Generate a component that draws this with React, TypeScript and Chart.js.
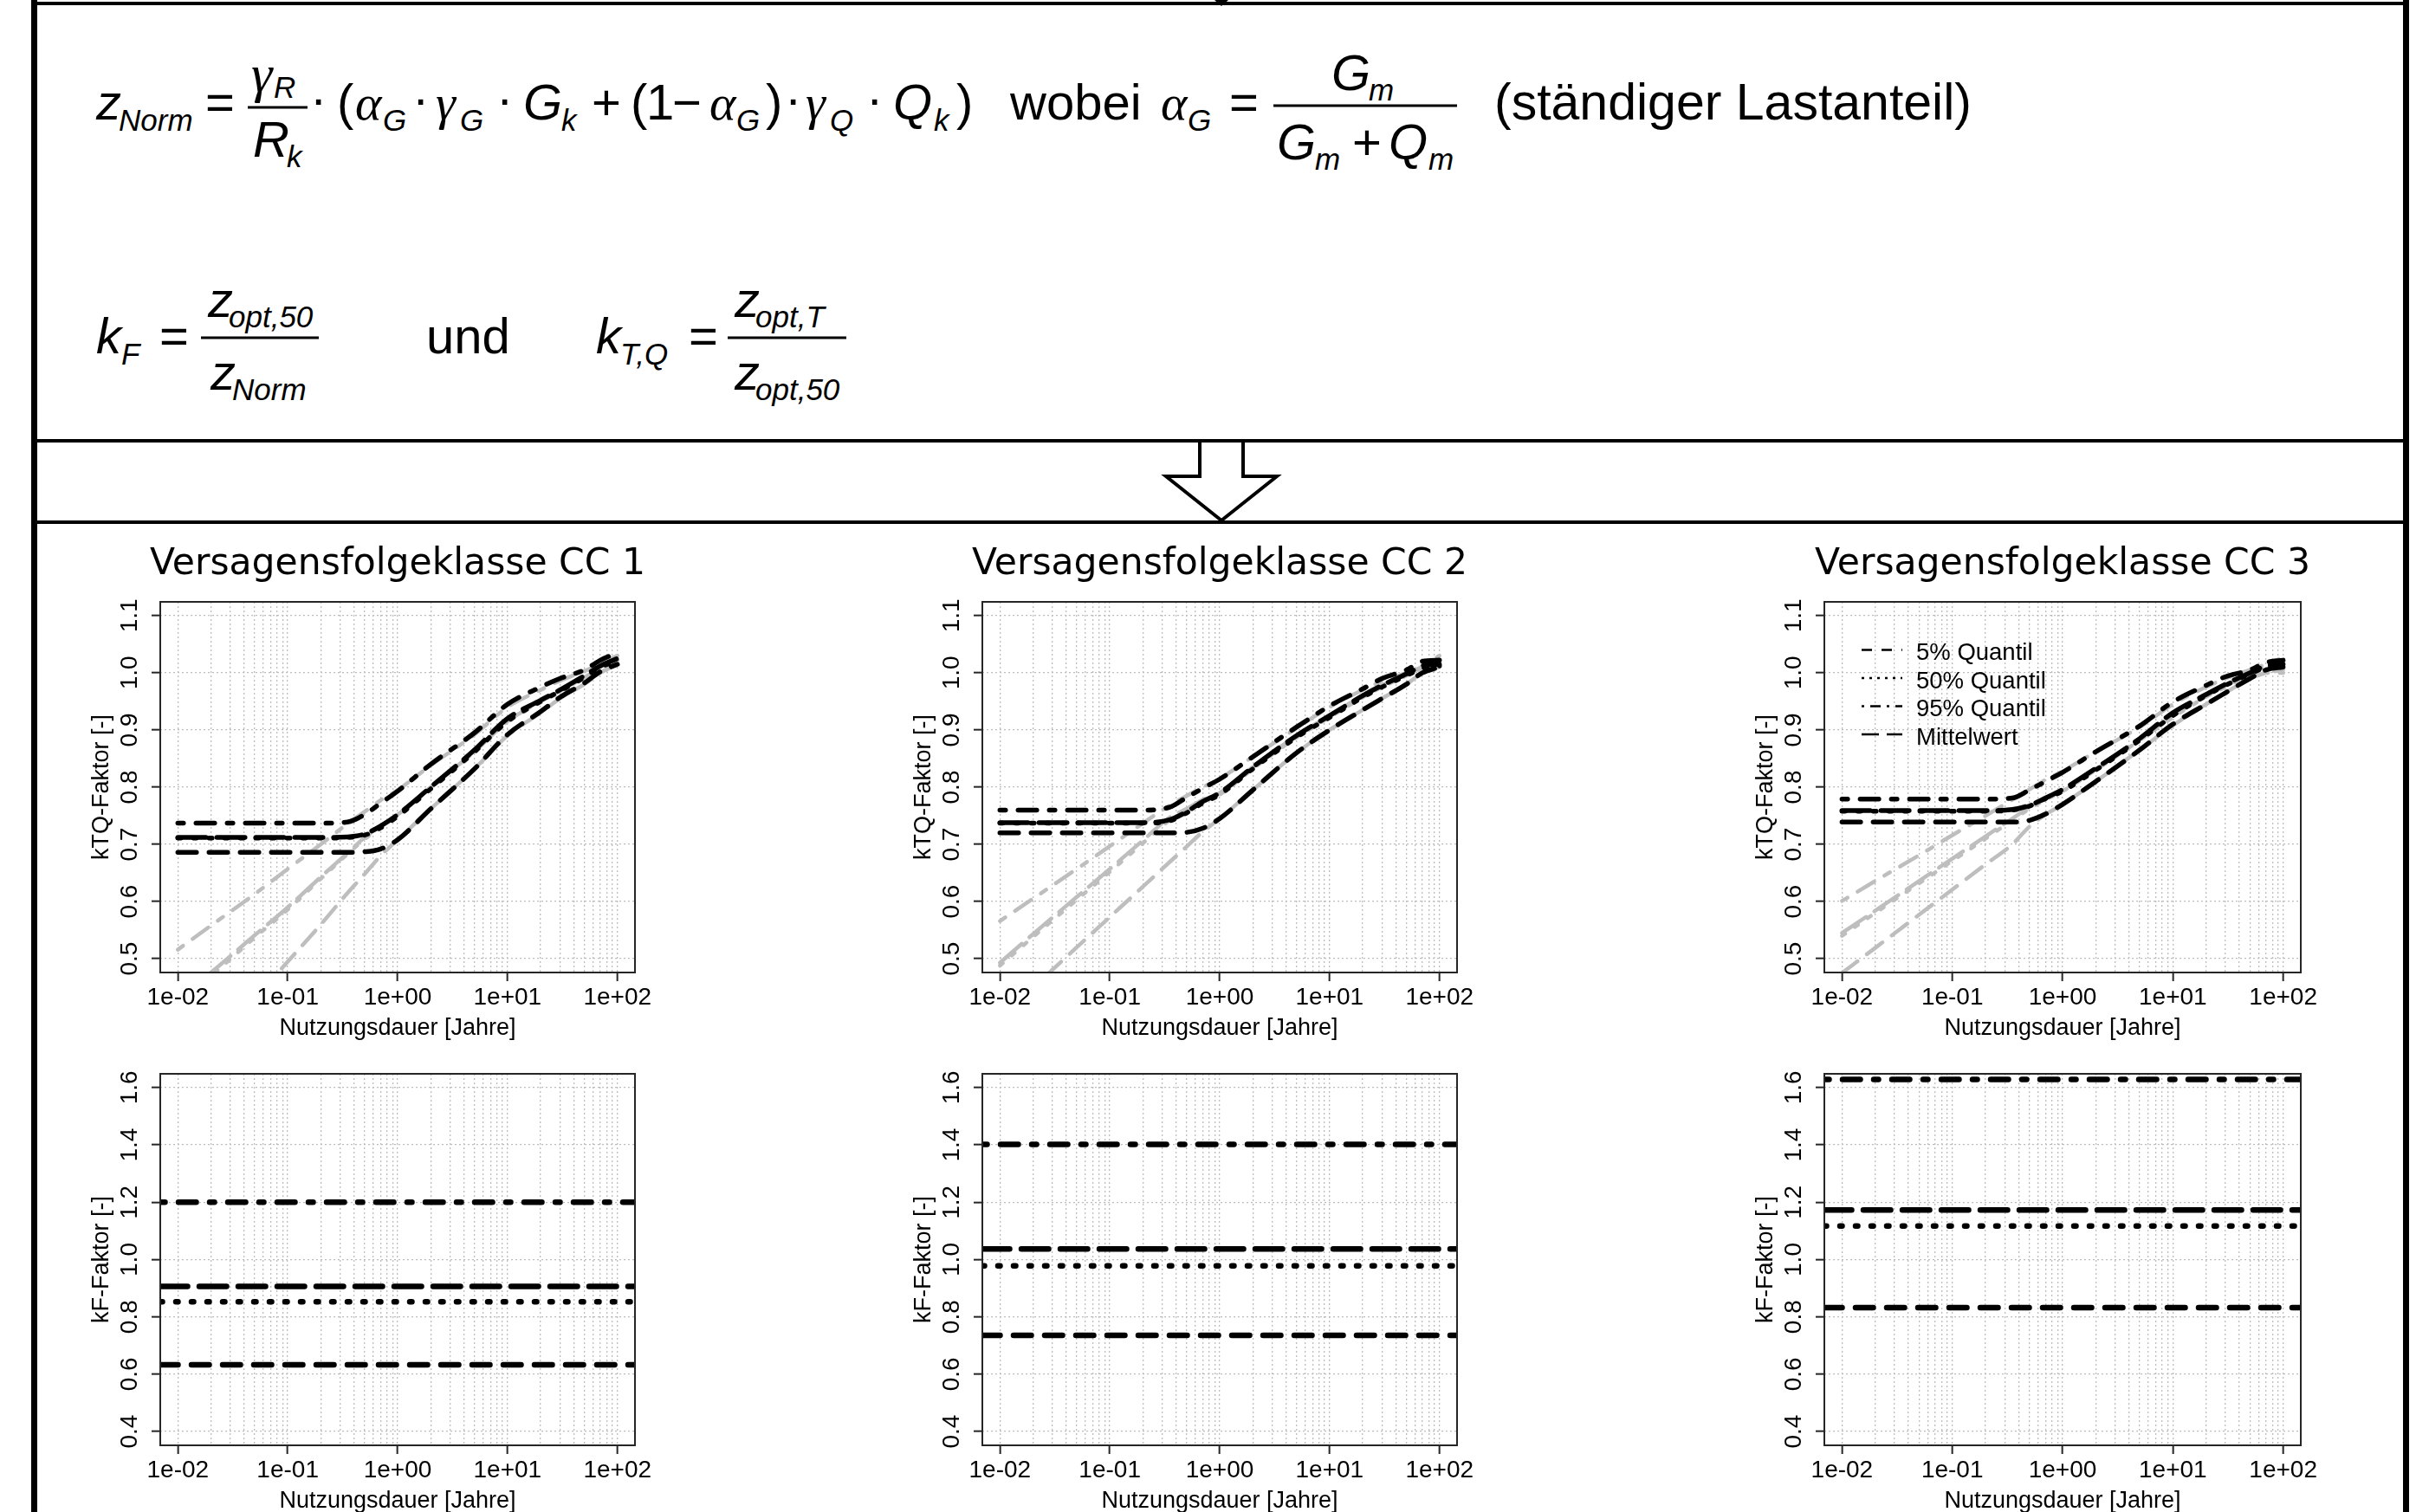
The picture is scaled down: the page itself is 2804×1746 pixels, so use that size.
import React, { useEffect, useRef } from 'react';
import { Chart, registerables } from 'chart.js';

Chart.register(...registerables);

// ---------------- data ----------------
const DURATION = [0.01, 0.02, 0.05, 0.1, 0.2, 0.35, 0.5, 0.7, 1, 2, 5, 10, 20, 30, 50, 70, 100];

// kTQ factor, black curves (constrained)
const CC1_Q5_BLACK = [0.686, 0.686, 0.686, 0.686, 0.686, 0.686, 0.687, 0.692, 0.708, 0.762, 0.832, 0.892, 0.932, 0.957, 0.982, 1.002, 1.015];
const CC1_Q50_BLACK = [0.711, 0.711, 0.711, 0.711, 0.711, 0.712, 0.716, 0.729, 0.749, 0.797, 0.862, 0.915, 0.95, 0.968, 0.992, 1.01, 1.02];
const CC1_Q95_BLACK = [0.737, 0.737, 0.737, 0.737, 0.737, 0.739, 0.752, 0.772, 0.793, 0.84, 0.895, 0.945, 0.975, 0.99, 1.005, 1.022, 1.035];
const CC1_MEAN_BLACK = [0.712, 0.712, 0.712, 0.712, 0.712, 0.713, 0.718, 0.732, 0.752, 0.8, 0.865, 0.92, 0.952, 0.97, 0.995, 1.012, 1.025];
// kTQ factor, grey curves (unconstrained)
const CC1_Q5_GRAY = [0.28, 0.345, 0.43, 0.495, 0.56, 0.615, 0.648, 0.68, 0.708, 0.762, 0.832, 0.89, 0.93, 0.955, 0.98, 1.0, 1.015];
const CC1_Q50_GRAY = [0.425, 0.47, 0.537, 0.586, 0.64, 0.683, 0.709, 0.73, 0.749, 0.797, 0.86, 0.913, 0.948, 0.966, 0.99, 1.006, 1.02];
const CC1_Q95_GRAY = [0.516, 0.558, 0.613, 0.657, 0.7, 0.736, 0.757, 0.777, 0.795, 0.838, 0.892, 0.94, 0.97, 0.986, 1.003, 1.016, 1.03];
const CC1_MEAN_GRAY = [0.43, 0.476, 0.541, 0.59, 0.643, 0.685, 0.712, 0.733, 0.752, 0.8, 0.862, 0.915, 0.95, 0.968, 0.992, 1.008, 1.022];

const CC2_Q5_BLACK = [0.72, 0.72, 0.72, 0.72, 0.72, 0.72, 0.721, 0.728, 0.745, 0.795, 0.86, 0.9, 0.935, 0.955, 0.98, 1.0, 1.01];
const CC2_Q50_BLACK = [0.737, 0.737, 0.737, 0.737, 0.737, 0.741, 0.755, 0.772, 0.787, 0.832, 0.887, 0.922, 0.957, 0.975, 0.995, 1.008, 1.012];
const CC2_Q95_BLACK = [0.76, 0.76, 0.76, 0.76, 0.76, 0.765, 0.782, 0.798, 0.814, 0.853, 0.905, 0.942, 0.972, 0.99, 1.005, 1.02, 1.022];
const CC2_MEAN_BLACK = [0.738, 0.738, 0.738, 0.738, 0.738, 0.743, 0.757, 0.775, 0.79, 0.835, 0.89, 0.925, 0.96, 0.978, 0.998, 1.012, 1.015];
const CC2_Q5_GRAY = [0.4, 0.45, 0.52, 0.573, 0.626, 0.669, 0.696, 0.722, 0.745, 0.795, 0.86, 0.9, 0.935, 0.955, 0.98, 1.0, 1.01];
const CC2_Q50_GRAY = [0.488, 0.538, 0.603, 0.652, 0.702, 0.742, 0.758, 0.774, 0.787, 0.832, 0.887, 0.922, 0.957, 0.975, 0.995, 1.008, 1.012];
const CC2_Q95_GRAY = [0.566, 0.605, 0.657, 0.697, 0.737, 0.768, 0.785, 0.8, 0.815, 0.853, 0.903, 0.94, 0.97, 0.985, 1.0, 1.012, 1.03];
const CC2_MEAN_GRAY = [0.493, 0.543, 0.608, 0.657, 0.707, 0.747, 0.762, 0.778, 0.79, 0.835, 0.89, 0.925, 0.96, 0.978, 0.998, 1.01, 1.015];

const CC3_Q5_BLACK = [0.739, 0.739, 0.739, 0.739, 0.739, 0.739, 0.742, 0.753, 0.77, 0.81, 0.865, 0.91, 0.945, 0.965, 0.99, 1.005, 1.01];
const CC3_Q50_BLACK = [0.758, 0.758, 0.758, 0.758, 0.758, 0.76, 0.767, 0.78, 0.793, 0.83, 0.882, 0.925, 0.96, 0.978, 0.998, 1.01, 1.02];
const CC3_Q95_BLACK = [0.779, 0.779, 0.779, 0.779, 0.779, 0.781, 0.795, 0.81, 0.826, 0.862, 0.907, 0.949, 0.978, 0.993, 1.005, 1.018, 1.022];
const CC3_MEAN_BLACK = [0.759, 0.759, 0.759, 0.759, 0.759, 0.761, 0.768, 0.781, 0.796, 0.833, 0.885, 0.93, 0.962, 0.98, 1.0, 1.012, 1.015];
const CC3_Q5_GRAY = [0.475, 0.519, 0.577, 0.621, 0.665, 0.7, 0.731, 0.752, 0.77, 0.81, 0.865, 0.908, 0.945, 0.965, 0.99, 1.0, 1.005];
const CC3_Q50_GRAY = [0.54, 0.58, 0.632, 0.671, 0.71, 0.742, 0.762, 0.778, 0.793, 0.83, 0.882, 0.922, 0.958, 0.975, 0.995, 1.0, 1.0];
const CC3_Q95_GRAY = [0.601, 0.636, 0.681, 0.716, 0.75, 0.778, 0.796, 0.813, 0.828, 0.862, 0.905, 0.945, 0.975, 0.99, 1.005, 1.015, 1.027];
const CC3_MEAN_GRAY = [0.545, 0.584, 0.636, 0.675, 0.714, 0.745, 0.765, 0.78, 0.795, 0.833, 0.885, 0.925, 0.96, 0.978, 0.998, 1.01, 1.015];

// kF factor (constant over service life), per class CC1, CC2, CC3
const KF_Q5 = [0.633, 0.736, 0.832];
const KF_Q50 = [0.853, 0.978, 1.117];
const KF_Q95 = [1.2, 1.402, 1.628];
const KF_MEAN = [0.906, 1.037, 1.173];

const CLASS_TITLES = ['Versagensfolgeklasse CC 1', 'Versagensfolgeklasse CC 2', 'Versagensfolgeklasse CC 3'];
const LEGEND_LABELS = ['5% Quantil', '50% Quantil', '95% Quantil', 'Mittelwert'];
const X_TICKS = [0.01, 0.1, 1, 10, 100];
const X_TICK_LABELS = ['1e-02', '1e-01', '1e+00', '1e+01', '1e+02'];
const KTQ_Y_TICKS = [0.5, 0.6, 0.7, 0.8, 0.9, 1.0, 1.1];
const KF_Y_TICKS = [0.4, 0.6, 0.8, 1.0, 1.2, 1.4, 1.6];

// axis limits (R style: data range +4%)
const X_MIN = Math.pow(10, -2.16);
const X_MAX = Math.pow(10, 2.16);
const KTQ_LIM = [0.476, 1.124];
const KF_LIM = [0.352, 1.648];

const KTQ_BLACK = [
  [CC1_Q5_BLACK, CC1_Q50_BLACK, CC1_Q95_BLACK, CC1_MEAN_BLACK],
  [CC2_Q5_BLACK, CC2_Q50_BLACK, CC2_Q95_BLACK, CC2_MEAN_BLACK],
  [CC3_Q5_BLACK, CC3_Q50_BLACK, CC3_Q95_BLACK, CC3_MEAN_BLACK],
];
const KTQ_GRAY = [
  [CC1_Q5_GRAY, CC1_Q50_GRAY, CC1_Q95_GRAY, CC1_MEAN_GRAY],
  [CC2_Q5_GRAY, CC2_Q50_GRAY, CC2_Q95_GRAY, CC2_MEAN_GRAY],
  [CC3_Q5_GRAY, CC3_Q50_GRAY, CC3_Q95_GRAY, CC3_MEAN_GRAY],
];

// ---------------- styles ----------------
const SANS = "'Liberation Sans', Arial, sans-serif";
const NARROW = "'Liberation Sans Narrow', 'Liberation Sans', Arial, sans-serif";
const SERIF = "'Liberation Serif', 'Times New Roman', serif";
const LINE_STYLES = ['dashed', 'dotted', 'dotdash', 'longdash'];
const GRID_COLOR = '#bdbdbd';
const GRAY = '#bebebe';

const COLS = [
  { left: 185, w: 548 },
  { left: 1134, w: 548 },
  { left: 2106, w: 550 },
];
const TOP_ROW = { top: 695, h: 428 };
const BOT_ROW = { top: 1240, h: 429 };
const Y_AXIS_W = 100;
const X_AXIS_H = 88;
const TITLE_H = 76;
const BOT_PAD_TOP = 26;

const GRID_X: number[] = (() => {
  const out: number[] = [];
  for (let e = -2; e <= 1; e++) for (let m = 1; m <= 9; m++) out.push(+(m * Math.pow(10, e)).toPrecision(6));
  out.push(100);
  return out;
})();

function majorIndex(v: number) {
  return X_TICKS.findIndex((t) => Math.abs(t - v) / t < 1e-6);
}

function dashFor(style: string, L: number): number[] {
  switch (style) {
    case 'dashed':
      return [27 - L, 9 + L];
    case 'dotted':
      return [Math.max(0.5, 9 - L), 9 + L];
    case 'dotdash':
      return [Math.max(0.5, 12 - L), 9 + L, 27 - L, 9 + L];
    default:
      return [38 - L, 7 + L];
  }
}

const LEGEND_DASH = [[12, 11], [3, 6], [3, 7, 12, 7], [20, 9]];

const boxPlugin = {
  id: 'rbox',
  afterDraw(chart: any) {
    const { ctx, chartArea: a } = chart;
    ctx.save();
    ctx.setLineDash([]);
    ctx.strokeStyle = '#262626';
    ctx.lineWidth = 2;
    ctx.strokeRect(a.left, a.top, a.right - a.left, a.bottom - a.top);
    ctx.restore();
  },
};

const legendPlugin = {
  id: 'rlegend',
  afterDraw(chart: any, _args: any, opts: any) {
    if (!opts || !opts.show) return;
    const { ctx, chartArea: a } = chart;
    LEGEND_LABELS.forEach((label, i) => {
      const y = a.top + 58.5 + i * 32.5;
      ctx.save();
      ctx.strokeStyle = '#000';
      ctx.lineWidth = 2.5;
      ctx.setLineDash(LEGEND_DASH[i]);
      ctx.beginPath();
      ctx.moveTo(a.left + 43, y - 3);
      ctx.lineTo(a.left + 90, y - 3);
      ctx.stroke();
      ctx.setLineDash([]);
      ctx.fillStyle = '#000';
      ctx.font = `27.5px ${SANS}`;
      ctx.textBaseline = 'middle';
      ctx.textAlign = 'left';
      ctx.fillText(label, a.left + 106, y + 1);
      ctx.restore();
    });
  },
};

function lineDataset(values: number[], color: string, width: number, style: string, order: number) {
  return {
    data: DURATION.map((x, i) => ({ x, y: values[i] })),
    borderColor: color,
    borderWidth: width,
    borderDash: dashFor(style, width),
    borderCapStyle: 'round',
    borderJoinStyle: 'round',
    pointRadius: 0,
    fill: false,
    cubicInterpolationMode: 'monotone',
    order,
    clip: 0,
  };
}

function makeConfig(kind: 'ktq' | 'kf', cc: number): any {
  const isTop = kind === 'ktq';
  const datasets: any[] = [];
  if (isTop) {
    LINE_STYLES.forEach((st, j) => datasets.push(lineDataset(KTQ_GRAY[cc][j], GRAY, 4.5, st, 1)));
    LINE_STYLES.forEach((st, j) => datasets.push(lineDataset(KTQ_BLACK[cc][j], '#000', 5.5, st, 0)));
  } else {
    const vals = [KF_Q5[cc], KF_Q50[cc], KF_Q95[cc], KF_MEAN[cc]];
    vals.forEach((v, j) => {
      const L = 6.5;
      datasets.push({
        data: [
          { x: X_MIN, y: v },
          { x: X_MAX, y: v },
        ],
        borderColor: '#000',
        borderWidth: L,
        borderDash: dashFor(LINE_STYLES[j], L),
        borderCapStyle: 'round',
        pointRadius: 0,
        fill: false,
        clip: 0,
      });
    });
  }
  const yTicks = isTop ? KTQ_Y_TICKS : KF_Y_TICKS;
  const yLim = isTop ? KTQ_LIM : KF_LIM;
  return {
    type: 'line',
    data: { datasets },
    plugins: [boxPlugin, legendPlugin],
    options: {
      responsive: false,
      animation: false,
      devicePixelRatio: 1,
      events: [],
      layout: { padding: { left: 0, right: 0, top: isTop ? 0 : BOT_PAD_TOP, bottom: 0 } },
      plugins: {
        legend: { display: false },
        tooltip: { enabled: false },
        title: isTop
          ? {
              display: true,
              text: CLASS_TITLES[cc],
              fullSize: true,
              color: '#000',
              font: { family: "'DejaVu Sans', Verdana, sans-serif", size: 42.5, weight: 'normal', lineHeight: 1 },
              padding: { top: 12, bottom: 21.5 },
            }
          : { display: false },
        rlegend: { show: isTop && cc === 2 },
      },
      scales: {
        x: {
          type: 'logarithmic',
          min: X_MIN,
          max: X_MAX,
          afterBuildTicks: (axis: any) => {
            axis.ticks = GRID_X.map((v) => ({ value: v }));
          },
          afterFit: (axis: any) => {
            axis.height = X_AXIS_H;
          },
          ticks: {
            autoSkip: false,
            minRotation: 0,
            maxRotation: 0,
            padding: 2,
            color: '#000',
            font: { family: SANS, size: 28 },
            callback: (value: any) => {
              const i = majorIndex(Number(value));
              return i >= 0 ? X_TICK_LABELS[i] : '';
            },
          },
          grid: {
            color: GRID_COLOR,
            lineWidth: 1.3,
            tickLength: 10,
            tickWidth: 2,
            tickColor: (ctx: any) => (ctx.tick && majorIndex(ctx.tick.value) >= 0 ? '#262626' : 'rgba(0,0,0,0)'),
          },
          border: { display: false, dash: [2, 3] },
          title: {
            display: true,
            text: 'Nutzungsdauer [Jahre]',
            color: '#000',
            font: { family: SANS, size: 27, lineHeight: 1 },
            padding: { top: 0, bottom: 9.5 },
          },
        },
        y: {
          type: 'linear',
          min: yLim[0],
          max: yLim[1],
          afterBuildTicks: (axis: any) => {
            axis.ticks = yTicks.map((v) => ({ value: v }));
          },
          afterFit: (axis: any) => {
            axis.width = Y_AXIS_W;
          },
          ticks: {
            autoSkip: false,
            minRotation: 90,
            maxRotation: 90,
            crossAlign: 'center',
            padding: 5,
            color: '#000',
            font: { family: NARROW, size: 28 },
            callback: (value: any) => Number(value).toFixed(1),
          },
          grid: { color: GRID_COLOR, lineWidth: 1.3, tickLength: 10, tickWidth: 2, tickColor: '#262626' },
          border: { display: false, dash: [2, 3] },
          title: {
            display: true,
            text: isTop ? 'kTQ-Faktor [-]' : 'kF-Faktor [-]',
            color: '#000',
            font: { family: SANS, size: 27, lineHeight: 1 },
            padding: { top: 19.5, bottom: 0 },
          },
        },
        // empty right-hand margin axis, same width as the left axis, so the title centres on the plot
        yRight: {
          type: 'linear',
          position: 'right',
          display: true,
          grid: { display: false, drawTicks: false },
          ticks: { display: false },
          border: { display: false },
          afterFit: (axis: any) => {
            axis.width = Y_AXIS_W;
          },
        },
      },
    },
  };
}

function Panel({ kind, cc }: { kind: 'ktq' | 'kf'; cc: number }) {
  const ref = useRef<HTMLCanvasElement>(null);
  const col = COLS[cc];
  const isTop = kind === 'ktq';
  const row = isTop ? TOP_ROW : BOT_ROW;
  const width = col.w + 2 * Y_AXIS_W;
  const height = (isTop ? TITLE_H : BOT_PAD_TOP) + row.h + X_AXIS_H;
  const left = col.left - Y_AXIS_W;
  const top = row.top - (isTop ? TITLE_H : BOT_PAD_TOP);
  useEffect(() => {
    const chart = new Chart(ref.current as HTMLCanvasElement, makeConfig(kind, cc));
    return () => chart.destroy();
  }, [kind, cc]);
  return (
    <canvas
      ref={ref}
      width={width}
      height={height}
      style={{ position: 'absolute', left, top, width, height, zIndex: 2 }}
    />
  );
}

// ---------------- formula helpers ----------------
type TP = { x: number; y: number; s: number; it?: boolean; f?: string; children: React.ReactNode };
function T({ x, y, s, it, f, children }: TP) {
  return (
    <text x={x} y={y} fontSize={s} fontStyle={it ? 'italic' : 'normal'} fontFamily={f || SANS} fill="#000">
      {children}
    </text>
  );
}

function Formulas() {
  const M = 58;
  const S = 35;
  const B1 = 138;
  const B2 = 408;
  const sub = 13;
  return (
    <g>
      {/* formula 1 */}
      <T x={111} y={B1} s={M} it>z</T>
      <T x={137} y={B1 + sub} s={S} it>Norm</T>
      <T x={237} y={B1} s={M}>=</T>
      <line x1={286} x2={355} y1={124} y2={124} stroke="#000" strokeWidth={3} />
      <T x={290} y={106} s={M + 4} it f={SERIF}>γ</T>
      <T x={316} y={113} s={S} it>R</T>
      <T x={292} y={181} s={M} it>R</T>
      <T x={331} y={193} s={S} it>k</T>
      <T x={358} y={B1 - 4} s={M}>·</T>
      <T x={389} y={B1} s={M}>(</T>
      <T x={410} y={B1} s={M} it f={SERIF}>α</T>
      <T x={442} y={B1 + sub} s={S} it>G</T>
      <T x={476} y={B1 - 4} s={M}>·</T>
      <T x={503} y={B1} s={M} it f={SERIF}>γ</T>
      <T x={531} y={B1 + sub} s={S} it>G</T>
      <T x={573} y={B1 - 4} s={M}>·</T>
      <T x={604} y={B1} s={M} it>G</T>
      <T x={648} y={B1 + sub} s={S} it>k</T>
      <T x={683} y={B1} s={M}>+</T>
      <T x={728} y={B1} s={M}>(</T>
      <T x={746} y={B1} s={M}>1</T>
      <T x={776} y={B1} s={M}>−</T>
      <T x={819} y={B1} s={M} it f={SERIF}>α</T>
      <T x={850} y={B1 + sub} s={S} it>G</T>
      <T x={884} y={B1} s={M}>)</T>
      <T x={906} y={B1 - 4} s={M}>·</T>
      <T x={930} y={B1} s={M} it f={SERIF}>γ</T>
      <T x={958} y={B1 + sub} s={S} it>Q</T>
      <T x={1000} y={B1 - 4} s={M}>·</T>
      <T x={1031} y={B1} s={M} it>Q</T>
      <T x={1078} y={B1 + sub} s={S} it>k</T>
      <T x={1104} y={B1} s={M}>)</T>
      <T x={1166} y={B1} s={M}>wobei</T>
      <T x={1340} y={B1} s={M} it f={SERIF}>α</T>
      <T x={1371} y={B1 + sub} s={S} it>G</T>
      <T x={1419} y={B1} s={M}>=</T>
      <line x1={1470} x2={1682} y1={122} y2={122} stroke="#000" strokeWidth={3} />
      <T x={1537} y={104} s={M} it>G</T>
      <T x={1580} y={116} s={S} it>m</T>
      <T x={1474} y={184} s={M} it>G</T>
      <T x={1518} y={196} s={S} it>m</T>
      <T x={1561} y={184} s={M}>+</T>
      <T x={1603} y={184} s={M} it>Q</T>
      <T x={1649} y={196} s={S} it>m</T>
      <T x={1725} y={B1} s={M + 1}>(ständiger Lastanteil)</T>

      {/* formula 2 */}
      <T x={111} y={B2} s={M} it>k</T>
      <T x={140} y={B2 + sub} s={S} it>F</T>
      <T x={184} y={B2} s={M}>=</T>
      <line x1={232} x2={368} y1={390} y2={390} stroke="#000" strokeWidth={3} />
      <T x={240} y={366} s={M} it>z</T>
      <T x={264} y={378} s={S} it>opt,50</T>
      <T x={243} y={450} s={M} it>z</T>
      <T x={268} y={462} s={S} it>Norm</T>
      <T x={492} y={B2} s={M}>und</T>
      <T x={688} y={B2} s={M} it>k</T>
      <T x={716} y={B2 + sub} s={S} it>T,Q</T>
      <T x={795} y={B2} s={M}>=</T>
      <line x1={840} x2={977} y1={390} y2={390} stroke="#000" strokeWidth={3} />
      <T x={848} y={366} s={M} it>z</T>
      <T x={872} y={378} s={S} it>opt,T</T>
      <T x={848} y={450} s={M} it>z</T>
      <T x={872} y={462} s={S} it>opt,50</T>
    </g>
  );
}

export default function App() {
  return (
    <div
      style={{
        position: 'absolute',
        left: 0,
        top: 0,
        width: 2804,
        height: 1746,
        overflow: 'hidden',
        background: '#fff',
        fontFamily: SANS,
      }}
    >
      <svg width={2804} height={1746} style={{ position: 'absolute', left: 0, top: 0, zIndex: 1 }}>
        <rect x={36} y={0} width={7} height={1746} fill="#000" />
        <rect x={2774} y={0} width={7} height={1746} fill="#000" />
        <rect x={36} y={2} width={2745} height={4} fill="#000" />
        <rect x={36} y={507} width={2745} height={4} fill="#000" />
        <rect x={36} y={601} width={2745} height={4} fill="#000" />
        <polygon points="1402,0 1418,0 1410,7" fill="#000" />
        <polygon
          points="1385,509 1385,550 1346,550 1410,601 1474,550 1435,550 1435,509"
          fill="#fff"
          stroke="#000"
          strokeWidth={4}
        />
        <Formulas />
      </svg>
      {[0, 1, 2].map((cc) => (
        <Panel key={`t${cc}`} kind="ktq" cc={cc} />
      ))}
      {[0, 1, 2].map((cc) => (
        <Panel key={`b${cc}`} kind="kf" cc={cc} />
      ))}
    </div>
  );
}
